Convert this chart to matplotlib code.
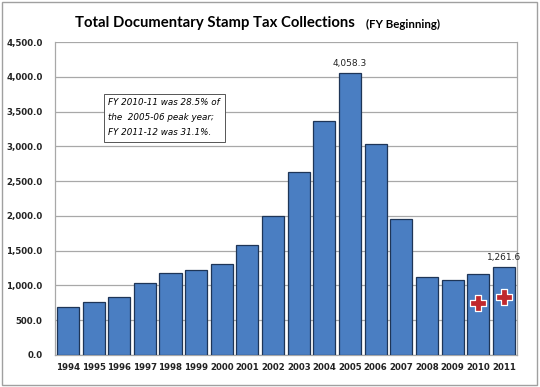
# Total Documentary Stamp Tax Collections bar chart
import matplotlib.pyplot as plt
from matplotlib.patches import Rectangle

# data (millions)
years = ['1994', '1995', '1996', '1997', '1998', '1999', '2000', '2001', '2002',
         '2003', '2004', '2005', '2006', '2007', '2008', '2009', '2010', '2011']
collections = [688, 768, 840, 1035, 1180, 1222, 1308, 1580, 2000,
               2630, 3365, 4058.3, 3030, 1955, 1120, 1080, 1160, 1261.6]
labelled = {'2005': '4,058.3', '2011': '1,261.6'}
plus_years = ['2010', '2011']
plus_values = [748, 833]
yticks = [0, 500, 1000, 1500, 2000, 2500, 3000, 3500, 4000, 4500]

fig = plt.figure(figsize=(5.4, 3.87), dpi=100)
ax = fig.add_axes([0.102, 0.083, 0.855, 0.808])

x = list(range(len(years)))
ax.bar(x, collections, width=0.86, color='#4a7ec2', edgecolor='#1e3557',
       linewidth=0.9, zorder=3)

# value labels on two bars
for i, yr in enumerate(years):
    if yr in labelled:
        ax.text(i, collections[i] + 70, labelled[yr], ha='center', va='bottom',
                fontsize=6.5, color='#222222')

# red plus markers
px = [years.index(y) for y in plus_years]
ax.scatter(px, plus_values, marker='P', s=130, color='#c0282d',
           edgecolors='white', linewidths=0.9, zorder=5)

ax.set_xlim(-0.5, len(years) - 0.5)
ax.set_ylim(0, 4500)
ax.set_yticks(yticks)
ax.set_yticklabels(['{:,.1f}'.format(v) for v in yticks], fontweight='bold')
ax.set_xticks(x)
ax.set_xticklabels(years, fontweight='bold')
ax.tick_params(axis='both', length=0, labelsize=6.2, colors='#222222')
ax.tick_params(axis='y', pad=9)
ax.tick_params(axis='x', pad=6)
ax.grid(axis='y', color='#a8a8a8', linewidth=0.9, zorder=0)
for s in ax.spines.values():
    s.set_color('#a8a8a8')
    s.set_linewidth(0.9)
ax.spines['top'].set_visible(False)

# note box
ax.text(1.58, 3690, 'FY 2010-11 was 28.5% of\nthe  2005-06 peak year;\nFY 2011-12 was 31.1%.',
        fontsize=6.3, style='italic', va='top', ha='left', linespacing=1.85,
        bbox=dict(boxstyle='square,pad=0.55', facecolor='white', edgecolor='#555555',
                  linewidth=0.7), zorder=6)

# title: shrink to the width it has in the original (about 280 px)
title = fig.text(75 / 540, 0.94, 'Total Documentary Stamp Tax Collections', fontsize=12.5,
                 fontweight='bold', family='Lato', va='center')
renderer = fig.canvas.get_renderer()
w = title.get_window_extent(renderer).width
title.set_fontsize(12.5 * 280 / w)
fig.text(366 / 540, 0.937, '(FY Beginning)', fontsize=8.3, fontweight='bold',
         family='Lato', va='center')

# outer border
fig.patches.append(Rectangle((0.004, 0.006), 0.991, 0.988, transform=fig.transFigure,
                             fill=False, edgecolor='#a0a0a0', linewidth=1))

fig.savefig('out.png', dpi=100)
